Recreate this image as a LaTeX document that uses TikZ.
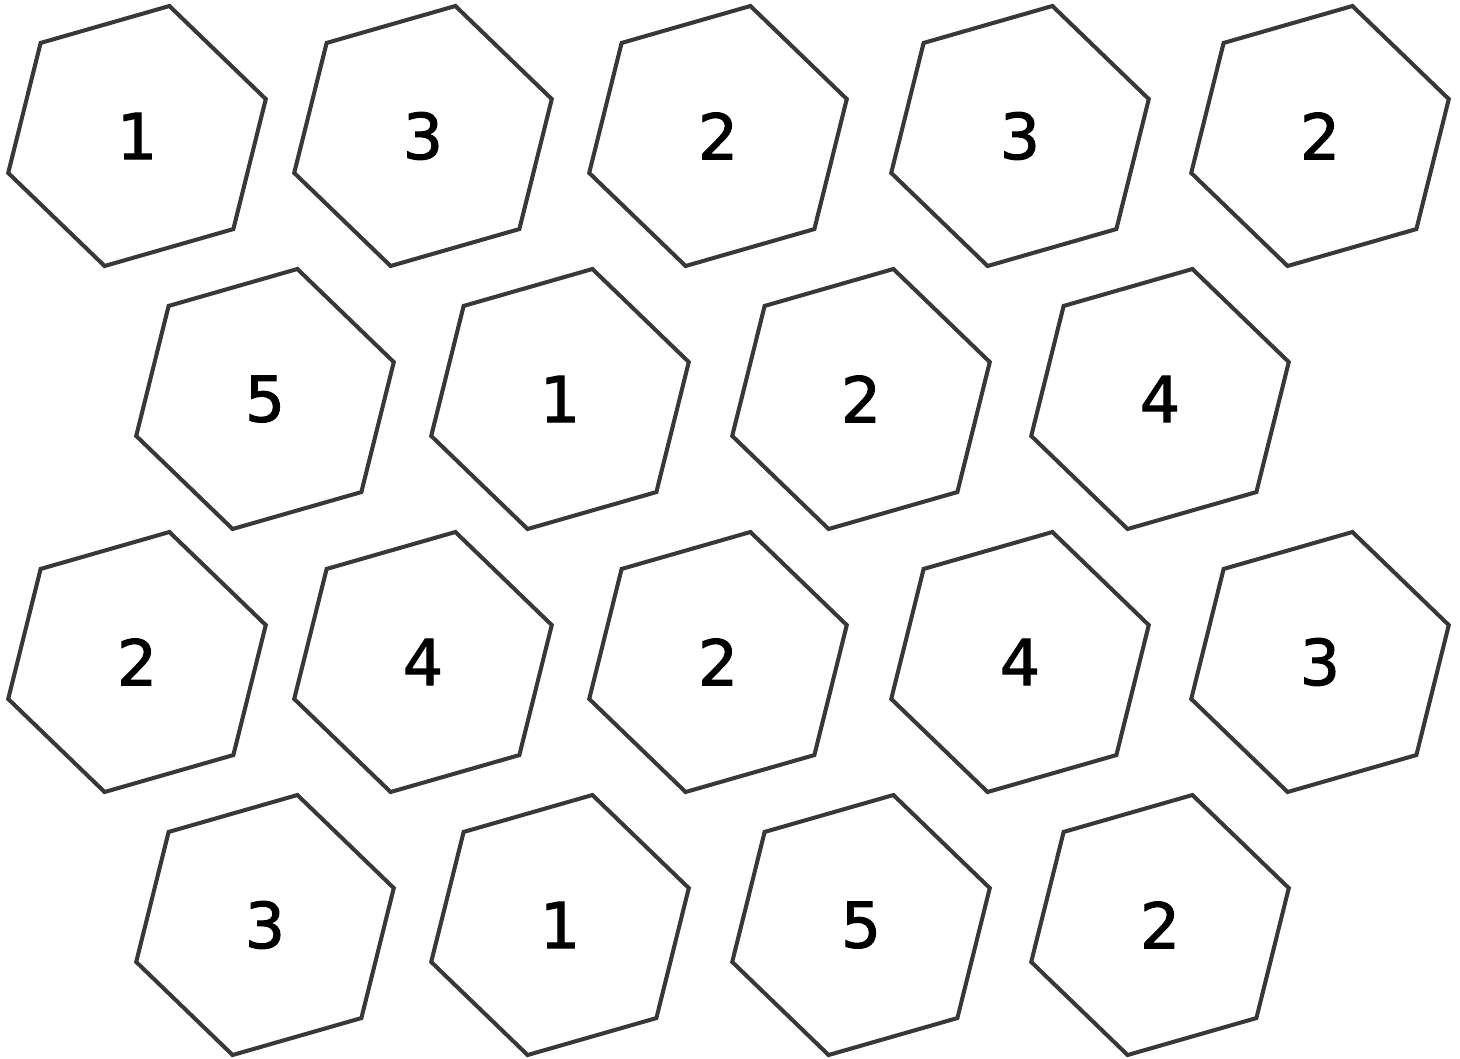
\documentclass[tikz,border=0pt]{standalone}
\usepackage{fontspec}
\setmainfont{DejaVu Sans}
\newfontfamily\hexfont{DejaVu Sans}[FakeBold=1.6]
\usetikzlibrary{shapes.geometric, positioning}

\begin{document}
\begin{tikzpicture}[x=0.02cm, y=-0.02cm]
\tikzstyle{hexcell}=[regular polygon, regular polygon sides=6, regular polygon rotate=16,
  minimum size=5.36cm, inner sep=0pt, outer sep=0pt, draw=black!78, line width=2.3pt,
  text=black, font=\hexfont\fontsize{36}{38}\selectfont]

\useasboundingbox (0,0) rectangle (1460,1058);

% row 1
\node[hexcell] (h11) at (137,136) {1};
\node[hexcell] (h12) at (423,136) {3};
\node[hexcell] (h13) at (718,136) {2};
\node[hexcell] (h14) at (1020,136) {3};
\node[hexcell] (h15) at (1320,136) {2};
% row 2
\node[hexcell] (h21) at (265,399) {5};
\node[hexcell] (h22) at (560,399) {1};
\node[hexcell] (h23) at (861,399) {2};
\node[hexcell] (h24) at (1160,399) {4};
% row 3
\node[hexcell] (h31) at (137,662) {2};
\node[hexcell] (h32) at (423,662) {4};
\node[hexcell] (h33) at (718,662) {2};
\node[hexcell] (h34) at (1020,662) {4};
\node[hexcell] (h35) at (1320,662) {3};
% row 4
\node[hexcell] (h41) at (265,925) {3};
\node[hexcell] (h42) at (560,925) {1};
\node[hexcell] (h43) at (861,925) {5};
\node[hexcell] (h44) at (1160,925) {2};
\end{tikzpicture}
\end{document}
